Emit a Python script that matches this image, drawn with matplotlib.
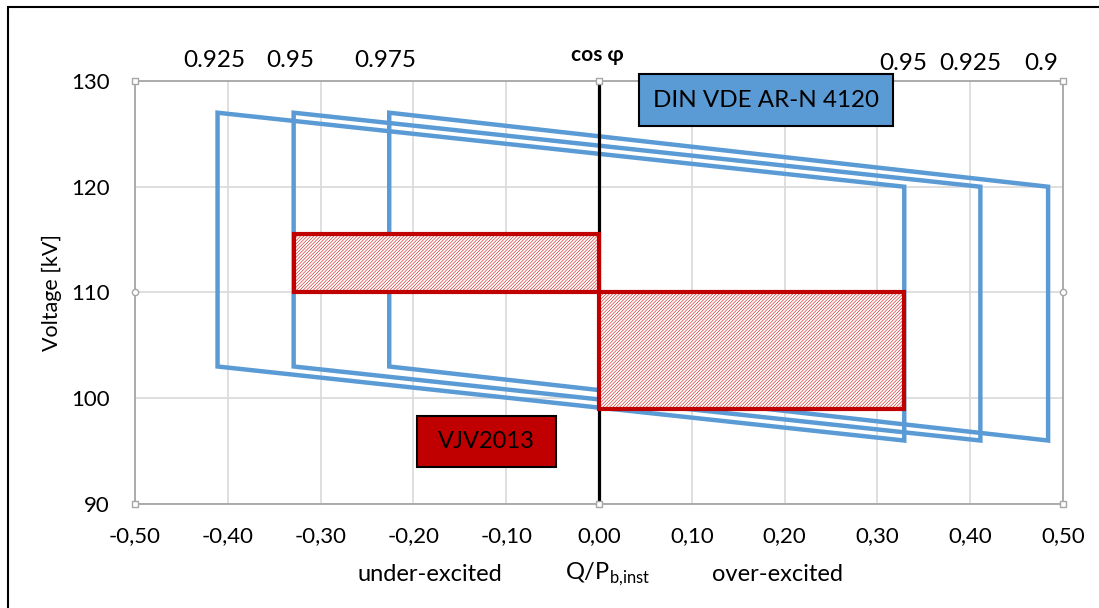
import matplotlib
matplotlib.use('Agg')
import matplotlib.pyplot as plt
from matplotlib.patches import Polygon, Rectangle
from matplotlib.ticker import FuncFormatter

plt.rcParams['font.family'] = ['Lato', 'DejaVu Sans']
plt.rcParams['mathtext.fontset'] = 'custom'
plt.rcParams['mathtext.rm'] = 'Lato'
plt.rcParams['hatch.linewidth'] = 0.45

# DIN VDE AR-N 4120 areas (Q/P limits for each cos phi pair)
q_left = [-0.411, -0.329, -0.226]      # cos phi 0.925, 0.95, 0.975 under-excited
q_right = [0.329, 0.411, 0.484]        # cos phi 0.95, 0.925, 0.9 over-excited
v_left = [127, 103]                    # upper / lower voltage on left side
v_right = [120, 96]                    # upper / lower voltage on right side

labels_left = ['0.925', '0.95', '0.975']
labels_right = ['0.95', '0.925', '0.9']

# VJV2013 areas: (q from, q to, v from, v to)
vjv_q = [(-0.329, 0.0), (0.0, 0.329)]
vjv_v = [(110, 115.5), (99, 110)]

blue = '#5B9BD5'
red = '#C00000'

fig = plt.figure(figsize=(10.99, 6.08), dpi=100)
ax = fig.add_axes([0.1228, 0.1711, 0.8444, 0.6957])

ax.set_xlim(-0.5, 0.5)
ax.set_ylim(90, 130)
ax.set_xticks([i / 10 for i in range(-5, 6)])
ax.set_yticks([90, 100, 110, 120, 130])
ax.xaxis.set_major_formatter(FuncFormatter(lambda v, p: ('%.2f' % v).replace('.', ',').replace('-0,00', '0,00')))
ax.grid(True, color='#d9d9d9', lw=1.2)
ax.set_axisbelow(True)
for s in ax.spines.values():
    s.set_color('#a6a6a6')
    s.set_linewidth(1.3)
ax.tick_params(length=0, labelsize=16, colors='black')
ax.tick_params(axis='x', pad=16)
ax.tick_params(axis='y', pad=18)

for ql, qr in zip(q_left, q_right):
    pts = [(ql, v_left[0]), (qr, v_right[0]), (qr, v_right[1]), (ql, v_left[1])]
    ax.add_patch(Polygon(pts, closed=True, fill=False, edgecolor=blue, lw=3.2, zorder=3, joinstyle='miter'))

ax.plot([0, 0], [90, 130], color='black', lw=2.3, zorder=4)

for (q0, q1), (v0, v1) in zip(vjv_q, vjv_v):
    ax.add_patch(Rectangle((q0, v0), q1 - q0, v1 - v0, facecolor='white', edgecolor='#d42a2a',
                           hatch='//////////', lw=0, zorder=5))
    ax.add_patch(Rectangle((q0, v0), q1 - q0, v1 - v0, fill=False, edgecolor=red, lw=3, zorder=6))

# cos phi labels above plot
for q, t in zip(q_left, labels_left):
    ax.text(q - 0.004, 131.9, t, ha='center', va='center', fontsize=17.5)
for q, t, dx in zip(q_right, labels_right, [-0.001, -0.011, -0.007]):
    ax.text(q + dx, 131.7, t, ha='center', va='center', fontsize=17.5)
ax.text(-0.002, 132.45, 'cos φ', ha='center', va='center', fontsize=15, fontweight='bold')

# legend-like boxes
ax.add_patch(Rectangle((0.0431, 125.74), 0.2737, 4.92, facecolor=blue, edgecolor='black',
                       lw=1.5, clip_on=False, zorder=7))
ax.text(0.18, 128.2, 'DIN VDE AR-N 4120', ha='center', va='center', fontsize=17.4, zorder=8)
ax.add_patch(Rectangle((-0.196, 93.5), 0.1497, 4.82, facecolor=red, edgecolor='black',
                       lw=1.5, zorder=7))
ax.text(-0.121, 95.9, 'VJV2013', ha='center', va='center', fontsize=17, zorder=8)

ax.text(-0.0894, 0.5, 'Voltage [kV]', transform=ax.transAxes, rotation=90,
        ha='center', va='center', fontsize=15.5)
ax.text(-0.182, 83.3, 'under-excited', ha='center', va='center', fontsize=17)
ax.text(0.009, 83.3, 'Q/P$_\\mathregular{b{,}inst}$', ha='center', va='center', fontsize=17)
ax.text(0.192, 83.3, 'over-excited', ha='center', va='center', fontsize=17)

# small handle markers on plot area edges
for x, y in [(-0.5, 130), (0.5, 130), (-0.5, 90), (0.5, 90), (0, 130), (0, 90)]:
    ax.plot(x, y, 's', ms=4, mfc='white', mec='#a6a6a6', mew=1, clip_on=False, zorder=8)
for x, y in [(-0.5, 110), (0.5, 110)]:
    ax.plot(x, y, 'o', ms=4.5, mfc='white', mec='#a6a6a6', mew=1, clip_on=False, zorder=8)

# chart border (only top and left visible)
fig.add_artist(Rectangle((8 / 1099, -0.05), 1.2, 1 - 7 / 608 + 0.05, transform=fig.transFigure,
                         fill=False, edgecolor='black', lw=1.5))

fig.savefig('out.png', dpi=100)
